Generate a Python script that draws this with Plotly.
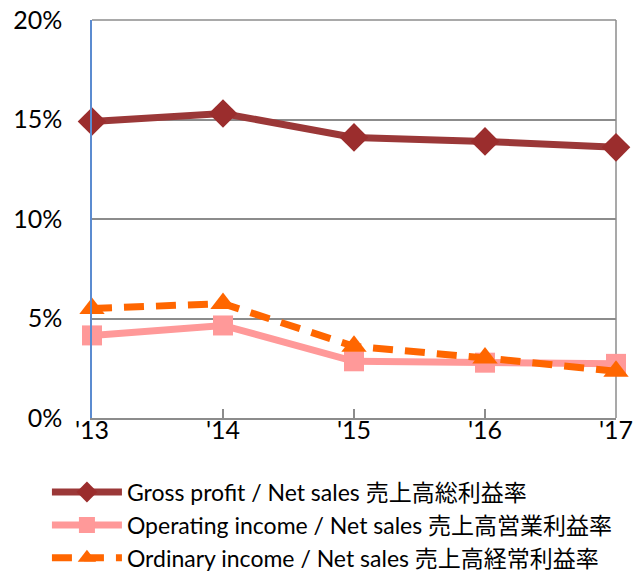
import plotly.graph_objects as go

years = ["'13", "'14", "'15", "'16", "'17"]
gross = [14.9, 15.3, 14.1, 13.9, 13.6]
operating = [4.15, 4.65, 2.85, 2.78, 2.72]
ordinary = [5.5, 5.75, 3.6, 3.02, 2.35]
names = ["Gross profit / Net sales 売上高総利益率",
         "Operating income / Net sales 売上高営業利益率",
         "Ordinary income / Net sales 売上高経常利益率"]

fig = go.Figure()
fig.add_trace(go.Scatter(x=years, y=gross, name=names[0], mode="lines+markers",
                         line=dict(color="#9B3838", width=7),
                         marker=dict(symbol="diamond", size=22, color="#9B2D2D"),
                         cliponaxis=False))
fig.add_trace(go.Scatter(x=years, y=operating, name=names[1], mode="lines+markers",
                         line=dict(color="#FF9999", width=7),
                         marker=dict(symbol="square", size=20, color="#FF9999"),
                         cliponaxis=False))
fig.add_trace(go.Scatter(x=years, y=ordinary, name=names[2], mode="lines+markers",
                         line=dict(color="#FF6600", width=7, dash="20px,12px"),
                         marker=dict(symbol="triangle-up", size=22, color="#FF6600"),
                         cliponaxis=False))

# right border and top gridline of plot frame
fig.add_shape(type="line", xref="paper", yref="paper", x0=1, x1=1, y0=0, y1=1,
              line=dict(color="#8C8C8C", width=1.5), layer="below")
fig.add_shape(type="line", xref="paper", yref="paper", x0=0, x1=1, y0=1, y1=1,
              line=dict(color="#8C8C8C", width=1.5), layer="below")

fig.update_layout(
    width=637, height=574,
    margin=dict(l=92, r=21, t=20, b=156, autoexpand=False),
    paper_bgcolor="white", plot_bgcolor="white",
    font=dict(family="Lato, 'Noto Sans CJK JP', sans-serif", color="black"),
    showlegend=True,
    legend=dict(x=-0.086, xanchor="left", y=-0.132, yanchor="top",
                font=dict(size=23), itemwidth=70, tracegroupgap=0,
                bgcolor="rgba(0,0,0,0)"),
    xaxis=dict(type="category", range=[0, 4], showgrid=False, automargin=False,
               showline=True, linecolor="#8C8C8C", linewidth=1.5,
               ticks="inside", ticklen=9, tickcolor="#8C8C8C", tickwidth=1.5,
               tickfont=dict(size=25), ticklabelstandoff=-11,
               ticklabeloverflow="allow", zeroline=False),
    yaxis=dict(range=[0, 20], dtick=5, ticksuffix="%", showgrid=True, automargin=False,
               gridcolor="#8C8C8C", gridwidth=1.5,
               showline=True, linecolor="#5B8BD0", linewidth=1.5,
               ticks="", tickfont=dict(size=25), ticklabelstandoff=23,
               ticklabeloverflow="allow", zeroline=False),
)

fig.write_html("out.html", config={"displayModeBar": False},
               post_script="document.body.style.margin='0';document.body.style.overflow='hidden';")
